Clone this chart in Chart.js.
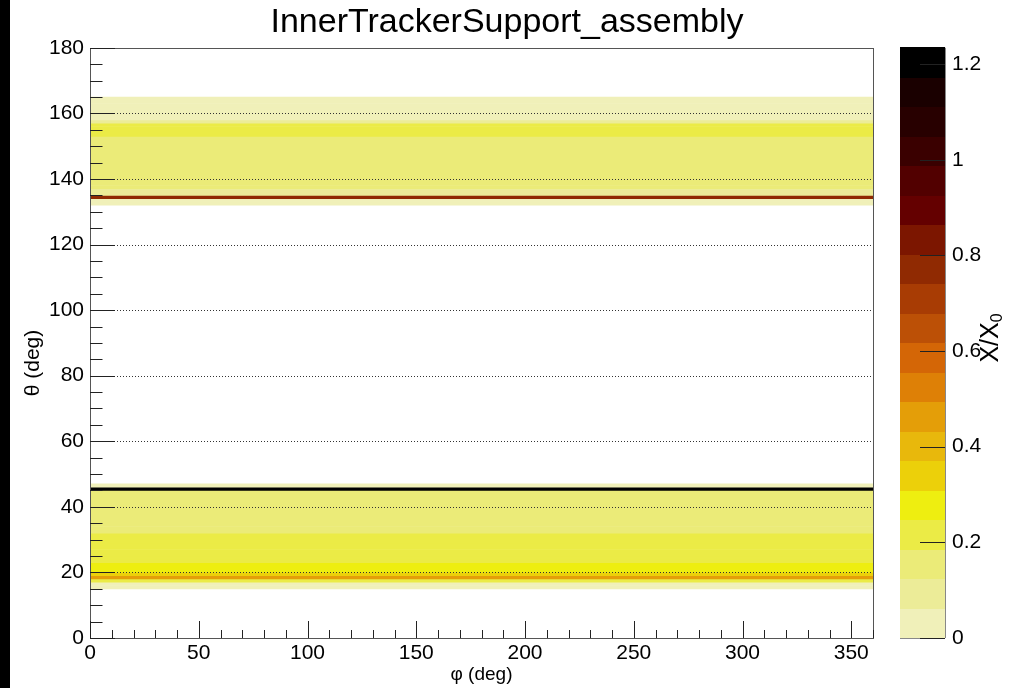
<!DOCTYPE html>
<html>
<head>
<meta charset="utf-8">
<script src="https://cdn.jsdelivr.net/npm/chart.js@4/dist/chart.umd.min.js"></script>
<style>
  html, body { margin: 0; padding: 0; background: #fff; }
  #wrap { position: relative; width: 1014px; height: 688px; }
  #strip { position: absolute; left: 0; top: 0; width: 10px; height: 688px; background: #000; }
</style>
</head>
<body>
<div id="wrap">
  <canvas id="scan" width="1014" height="688"></canvas>
  <div id="strip"></div>
</div>
<script>
// theta bins (lower edge, 1 deg wide) and X/X0 per bin, flat in phi
const thetaLow = [
  15, 16, 17, 18, 19, 20, 21, 22, 23, 24, 25, 26, 27, 28, 29, 30, 31,
  32, 33, 34, 35, 36, 37, 38, 39, 40, 41, 42, 43, 44, 45, 46,
  132, 133, 134, 135, 136, 137, 138, 139, 140, 141, 142, 143, 144, 145, 146,
  147, 148, 149, 150, 151, 152, 153, 154, 155, 156, 157, 158, 159, 160, 161,
  162, 163, 164
];
const xOverX0 = [
  0.03, 0.03, 0.21, 0.46, 0.34, 0.28, 0.28, 0.28, 0.21, 0.21, 0.21, 0.21, 0.21, 0.21, 0.21, 0.21, 0.21,
  0.15, 0.15, 0.15, 0.15, 0.15, 0.15, 0.15, 0.15, 0.15, 0.15, 0.15, 0.15, 0.15, 1.234, 0.03,
  0.03, 0.03, 0.77, 0.09, 0.09, 0.15, 0.15, 0.15, 0.15, 0.15, 0.15, 0.15, 0.15, 0.15, 0.15,
  0.15, 0.15, 0.15, 0.15, 0.15, 0.15, 0.24, 0.24, 0.24, 0.24, 0.09, 0.03, 0.03, 0.03, 0.03,
  0.03, 0.03, 0.03
];
const phiRange = [0, 360];
const thetaRange = [0, 180];
const zRange = [0, 1.234];

// 20-level palette, low to high
const palette = [
  '#f0f0b9', '#ecec98', '#ebeb78', '#ebeb46', '#eeee10',
  '#ecd00a', '#e8b80c', '#e49e08', '#de8006', '#d46606',
  '#bc5006', '#a83c04', '#902a02', '#7c1600', '#640000',
  '#520000', '#3a0000', '#280000', '#1a0000', '#000000'
];

const FONT = '"Liberation Sans", Arial, Helvetica, sans-serif';

function levelColour(v) {
  const step = (zRange[1] - zRange[0]) / palette.length;
  const i = Math.min(palette.length - 1, Math.floor((v - zRange[0]) / step));
  return palette[Math.max(0, i)];
}

function line(ctx, x1, y1, x2, y2) {
  ctx.beginPath();
  ctx.moveTo(x1, y1);
  ctx.lineTo(x2, y2);
  ctx.stroke();
}

const rootDecor = {
  id: 'rootDecor',
  afterDatasetsDraw(chart) {
    const { ctx, chartArea: a, scales: { x, y, z } } = chart;
    ctx.save();

    // dotted grid on theta majors
    ctx.strokeStyle = '#333';
    ctx.lineWidth = 1;
    ctx.setLineDash([1, 2]);
    y.ticks.forEach(t => {
      if (t.value <= thetaRange[0] || t.value >= thetaRange[1]) return;
      const py = Math.round(y.getPixelForValue(t.value)) + 0.5;
      line(ctx, a.left, py, a.right, py);
    });
    ctx.setLineDash([]);

    // frame
    ctx.strokeStyle = '#555';
    ctx.strokeRect(Math.round(a.left) + 0.5, Math.round(a.top) + 0.5,
      Math.round(a.right - a.left), Math.round(a.bottom - a.top));

    // theta ticks (inside)
    ctx.strokeStyle = '#222';
    for (let v = thetaRange[0]; v <= thetaRange[1]; v += 5) {
      const py = Math.round(y.getPixelForValue(v)) + 0.5;
      const len = v % 20 === 0 ? 25 : 12.5;
      line(ctx, a.left, py, a.left + len, py);
    }
    // phi ticks (inside)
    for (let v = phiRange[0]; v <= phiRange[1]; v += 10) {
      const px = Math.round(x.getPixelForValue(v)) + 0.5;
      const len = v % 50 === 0 ? 17 : 8;
      line(ctx, px, a.bottom, px, a.bottom - len);
    }

    // colour bar
    const barL = a.right + 27, barR = a.right + 72;
    const step = (zRange[1] - zRange[0]) / palette.length;
    palette.forEach((c, i) => {
      const y0 = z.getPixelForValue(zRange[0] + i * step);
      const y1 = z.getPixelForValue(zRange[0] + (i + 1) * step);
      ctx.fillStyle = c;
      ctx.fillRect(barL, Math.floor(y1), barR - barL, Math.ceil(y0) - Math.floor(y1));
    });
    ctx.strokeStyle = '#888';
    line(ctx, barR + 0.5, z.top, barR + 0.5, z.bottom);
    line(ctx, barL, Math.round(z.bottom) + 0.5, barR, Math.round(z.bottom) + 0.5);
    ctx.strokeStyle = '#222';
    z.ticks.forEach(t => {
      const py = Math.round(z.getPixelForValue(t.value)) + 0.5;
      line(ctx, barR - 25, py, barR, py);
    });

    // axis titles
    ctx.fillStyle = '#000';
    ctx.textAlign = 'center';
    ctx.textBaseline = 'middle';
    ctx.font = '19px ' + FONT;
    ctx.fillText('φ (deg)', (a.left + a.right) / 2, 675);

    ctx.save();
    ctx.translate(33, 363);
    ctx.rotate(-Math.PI / 2);
    ctx.font = '21px ' + FONT;
    ctx.fillText('θ (deg)', 0, 0);
    ctx.restore();

    ctx.save();
    ctx.translate(991, 338);
    ctx.rotate(-Math.PI / 2);
    ctx.textAlign = 'left';
    const main = 'X/X';
    ctx.font = '25px ' + FONT;
    const w = ctx.measureText(main).width;
    ctx.font = '16px ' + FONT;
    const ws = ctx.measureText('0').width;
    ctx.font = '25px ' + FONT;
    ctx.fillText(main, -(w + ws) / 2, 0);
    ctx.font = '16px ' + FONT;
    ctx.fillText('0', -(w + ws) / 2 + w, 7);
    ctx.restore();

    ctx.restore();
  }
};

new Chart(document.getElementById('scan'), {
  type: 'bar',
  data: {
    datasets: [{
      data: thetaLow.map(t => ({ y: t + 0.5, x: phiRange })),
      backgroundColor: c => levelColour(xOverX0[c.dataIndex]),
      borderWidth: 0,
      barPercentage: 1,
      categoryPercentage: 1,
      grouped: false
    }]
  },
  options: {
    indexAxis: 'y',
    responsive: false,
    animation: false,
    events: [],
    layout: { padding: 0 },
    plugins: {
      legend: { display: false },
      tooltip: { enabled: false },
      title: {
        display: true,
        text: 'InnerTrackerSupport_assembly',
        color: '#000',
        font: { family: FONT, size: 34, weight: 'normal', lineHeight: 1.2 },
        padding: { top: 2, bottom: 5 }
      }
    },
    scales: {
      x: {
        type: 'linear',
        min: phiRange[0], max: phiRange[1],
        grid: { display: false, drawTicks: false },
        border: { display: false },
        ticks: { stepSize: 50, includeBounds: false, color: '#000', padding: 3,
                 font: { family: FONT, size: 21 }, maxRotation: 0 },
        afterFit: s => { s.height = 50; }
      },
      y: {
        type: 'linear',
        min: thetaRange[0], max: thetaRange[1],
        offset: false,
        grid: { display: false, drawTicks: false, offset: false },
        border: { display: false },
        ticks: { stepSize: 20, color: '#000', padding: 6,
                 font: { family: FONT, size: 21 } },
        afterFit: s => { s.width = 90; }
      },
      z: {
        type: 'linear',
        position: 'right',
        min: zRange[0], max: zRange[1],
        offset: false,
        grid: { display: false, drawTicks: true, tickLength: 76, offset: false },
        border: { display: false },
        ticks: { stepSize: 0.2, includeBounds: false, color: '#000', padding: 3,
                 font: { family: FONT, size: 21 },
                 callback: v => String(+v.toFixed(2)) },
        afterFit: s => { s.width = 141; }
      }
    }
  },
  plugins: [rootDecor]
});
</script>
</body>
</html>
